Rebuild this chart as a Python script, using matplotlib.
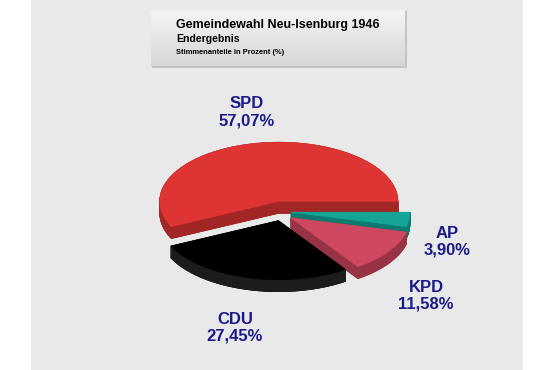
import matplotlib
matplotlib.use("Agg")
import matplotlib.pyplot as plt
import numpy as np
from matplotlib.patches import Polygon, Rectangle

# %% Data

PARTIES = ["SPD", "CDU", "KPD", "AP"]
SHARES = [57.07, 27.45, 11.58, 3.90]

TITLE = "Gemeindewahl Neu-Isenburg 1946"
SUBTITLE = "Endergebnis"
NOTE = "Stimmenanteile in Prozent (%)"

# %% Style

TOP_COLORS = ["#DE3434", "#000000", "#CE4861", "#14A597"]
SIDE_COLORS = ["#A32626", "#1C1C1C", "#983245", "#0C7A6F"]
LABEL_COLOR = "#1A1A8A"
BG = "#E9E9E9"

CX, CY = 281, 211      # pie centre (pixels)
RX, RY = 119, 59       # ellipse radii
DEPTH = 12
EXPLODE = [10, 10, 12, 10]
LABEL_POS = [(247, 104), (235, 319), (426, 287), (447, 233)]

plt.rcParams["font.family"] = ["Liberation Sans", "DejaVu Sans"]

fig = plt.figure(figsize=(5.55, 3.7), dpi=100)
fig.patch.set_facecolor("white")
ax = fig.add_axes([0, 0, 1, 1])
ax.set_xlim(0, 555)
ax.set_ylim(370, 0)
ax.axis("off")

ax.add_patch(Rectangle((31, 0), 492, 370, facecolor=BG, edgecolor="none", zorder=0))

# title box with a soft vertical gradient and a shadow edge
ax.add_patch(Rectangle((152, 11), 255, 57, facecolor="#C4C4C4", edgecolor="none", zorder=1))
grad = np.linspace(0, 1, 64)[:, None]
top_c = np.array([0.96, 0.96, 0.96])
bot_c = np.array([0.84, 0.84, 0.84])
img = top_c + (bot_c - top_c) * grad[..., None]
ax.imshow(img, extent=[151, 405, 66, 10], aspect="auto", zorder=2)
ax.set_xlim(0, 555)
ax.set_ylim(370, 0)

ax.text(176, 25, TITLE, fontsize=9, fontweight="bold", va="center", ha="left", zorder=3)
ax.text(176, 39, SUBTITLE, fontsize=7.6, fontweight="bold", va="center", ha="left", zorder=3)
ax.text(176, 53, NOTE, fontsize=5.4, fontweight="bold", va="center", ha="left", zorder=3)


# %% 3D pie


def slice_points(cx, cy, t1, t2):
    ts = np.radians(np.linspace(t1, t2, max(int(abs(t2 - t1)), 2) + 1))
    xs = cx + RX * np.cos(ts)
    ys = cy - RY * np.sin(ts)
    return np.vstack([[cx, cy], np.column_stack([xs, ys])])


angles = np.cumsum([0] + [s / sum(SHARES) * 360 for s in SHARES])

slices = []
for i, name in enumerate(PARTIES):
    t1, t2 = angles[i], angles[i + 1]
    mid = np.radians((t1 + t2) / 2)
    cx = CX + EXPLODE[i] * np.cos(mid)
    cy = CY - EXPLODE[i] * np.sin(mid)
    slices.append((np.sin(mid), i, cx, cy, t1, t2))

# back slices first
z = 5
for _, i, cx, cy, t1, t2 in sorted(slices, key=lambda s: -s[0]):
    pts = slice_points(cx, cy, t1, t2)
    low = pts + [0, DEPTH]
    side = dict(facecolor=SIDE_COLORS[i], edgecolor=SIDE_COLORS[i], linewidth=0.5, zorder=z)
    ax.add_patch(Polygon(low, closed=True, **side))
    n = len(pts)
    for k in range(n):
        a, b = pts[k], pts[(k + 1) % n]
        ax.add_patch(Polygon([a, b, b + [0, DEPTH], a + [0, DEPTH]], closed=True, **side))
    ax.add_patch(
        Polygon(pts, closed=True, facecolor=TOP_COLORS[i], edgecolor=TOP_COLORS[i],
                linewidth=0.5, zorder=z + 1)
    )
    z += 2

for (x, y), name, share in zip(LABEL_POS, PARTIES, SHARES):
    pct = f"{share:.2f}".replace(".", ",") + "%"
    ax.text(x, y, name, fontsize=12, fontweight="bold", color=LABEL_COLOR,
            ha="center", va="center", zorder=20)
    ax.text(x, y + 17, pct, fontsize=12, fontweight="bold", color=LABEL_COLOR,
            ha="center", va="center", zorder=20)

fig.savefig("out.png", dpi=100)
